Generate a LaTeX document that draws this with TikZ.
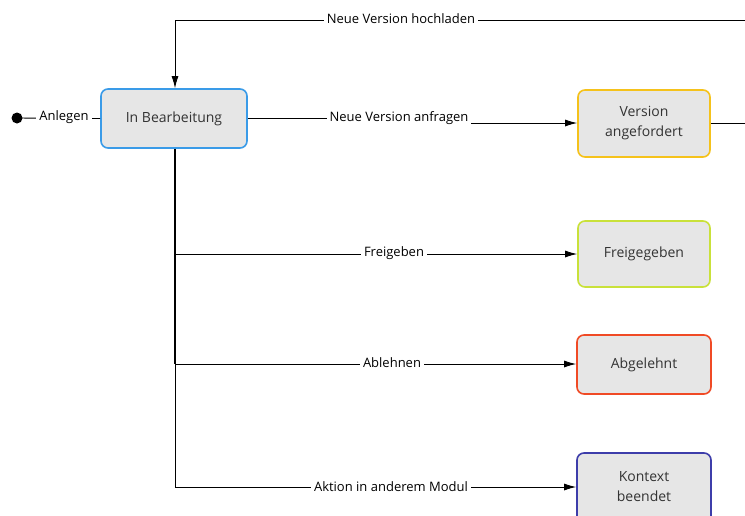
\documentclass[tikz,border=0pt]{standalone}
\usepackage{fontspec}
\setmainfont{Open Sans}
\usetikzlibrary{arrows.meta}
\definecolor{boxfill}{HTML}{E6E6E6}
\definecolor{cblue}{HTML}{3A9BE8}
\definecolor{cyellow}{HTML}{F5C21B}
\definecolor{clime}{HTML}{C9E13A}
\definecolor{cred}{HTML}{F04A25}
\definecolor{cpurple}{HTML}{3D3DAA}
\tikzset{
  state/.style={draw, line width=1.6pt, fill=boxfill, rounded corners=7pt, align=center,
    font=\fontsize{14}{20}\selectfont, text=black!80, inner sep=0pt},
  conn/.style={line width=0.9pt, draw=black},
  arr/.style={conn, -{Latex[length=12pt,width=7pt]}},
  lbl/.style={fill=white, inner xsep=3pt, inner ysep=1pt, font=\fontsize{13}{16}\selectfont}
}
\begin{document}
\begin{tikzpicture}[x=1pt,y=-1pt]
\useasboundingbox (0,0) rectangle (745,515);
\clip (0,0) rectangle (745,515);
% states
\node[state, draw=cblue, minimum width=146pt, minimum height=59pt] (inb) at (174,118.5) {In Bearbeitung};
\node[state, draw=cyellow, minimum width=132pt, minimum height=67pt] (ver) at (644,123.5) {Version\\angefordert};
\node[state, draw=clime, minimum width=132pt, minimum height=66pt] (frei) at (644,254) {Freigegeben};
\node[state, draw=cred, minimum width=134pt, minimum height=59pt] (abg) at (644,364.5) {Abgelehnt};
\node[state, draw=cpurple, minimum width=134pt, minimum height=70pt] (kon) at (644,488) {};
\node[font=\fontsize{14}{20}\selectfont, text=black!80, align=center] (kontxt) at (644,487) {Kontext\\beendet};
% start
\coordinate (start) at (17,118);
\fill (start) circle (5.5pt);
\draw[conn] (start) -- (inb.west);
\node[lbl] (lan) at (64,117) {Anlegen};
% coordinates
\coordinate (topR) at (745,20);
\coordinate (topL) at (175,20);
\coordinate (jog1) at (400,118);
\coordinate (jog2) at (400,123);
\coordinate (verR) at (745,123);
\coordinate (b1) at (175,254);
\coordinate (b2) at (175,364);
\coordinate (b3) at (175,487);
% hochladen
\draw[conn] (topR) -- (topL);
\draw[arr] (topL) -- (inb.north -| topL);
\node[lbl] (lh) at (401,19) {Neue Version hochladen};
% anfragen
\draw[conn] (inb.east |- jog1) -- (jog1) -- (jog2);
\draw[arr] (jog2) -- (ver.west |- jog2);
\node[lbl] (la) at (399,118) {Neue Version anfragen};
\draw[conn] (ver.east |- verR) -- (verR);
% branches
\draw[line width=1.8pt] (inb.south -| b1) -- (b2);
\draw[conn] (b2) -- (b3);
\draw[arr] (b1) -- (frei.west |- b1);
\draw[arr] (b2) -- (abg.west |- b2);
\draw[arr] (b3) -- (kon.west |- b3);
\node[lbl] (lf) at (394,253) {Freigeben};
\node[lbl] (lab) at (392,363) {Ablehnen};
\node[lbl] (lak) at (391,487) {Aktion in anderem Modul};
\end{tikzpicture}
\end{document}
